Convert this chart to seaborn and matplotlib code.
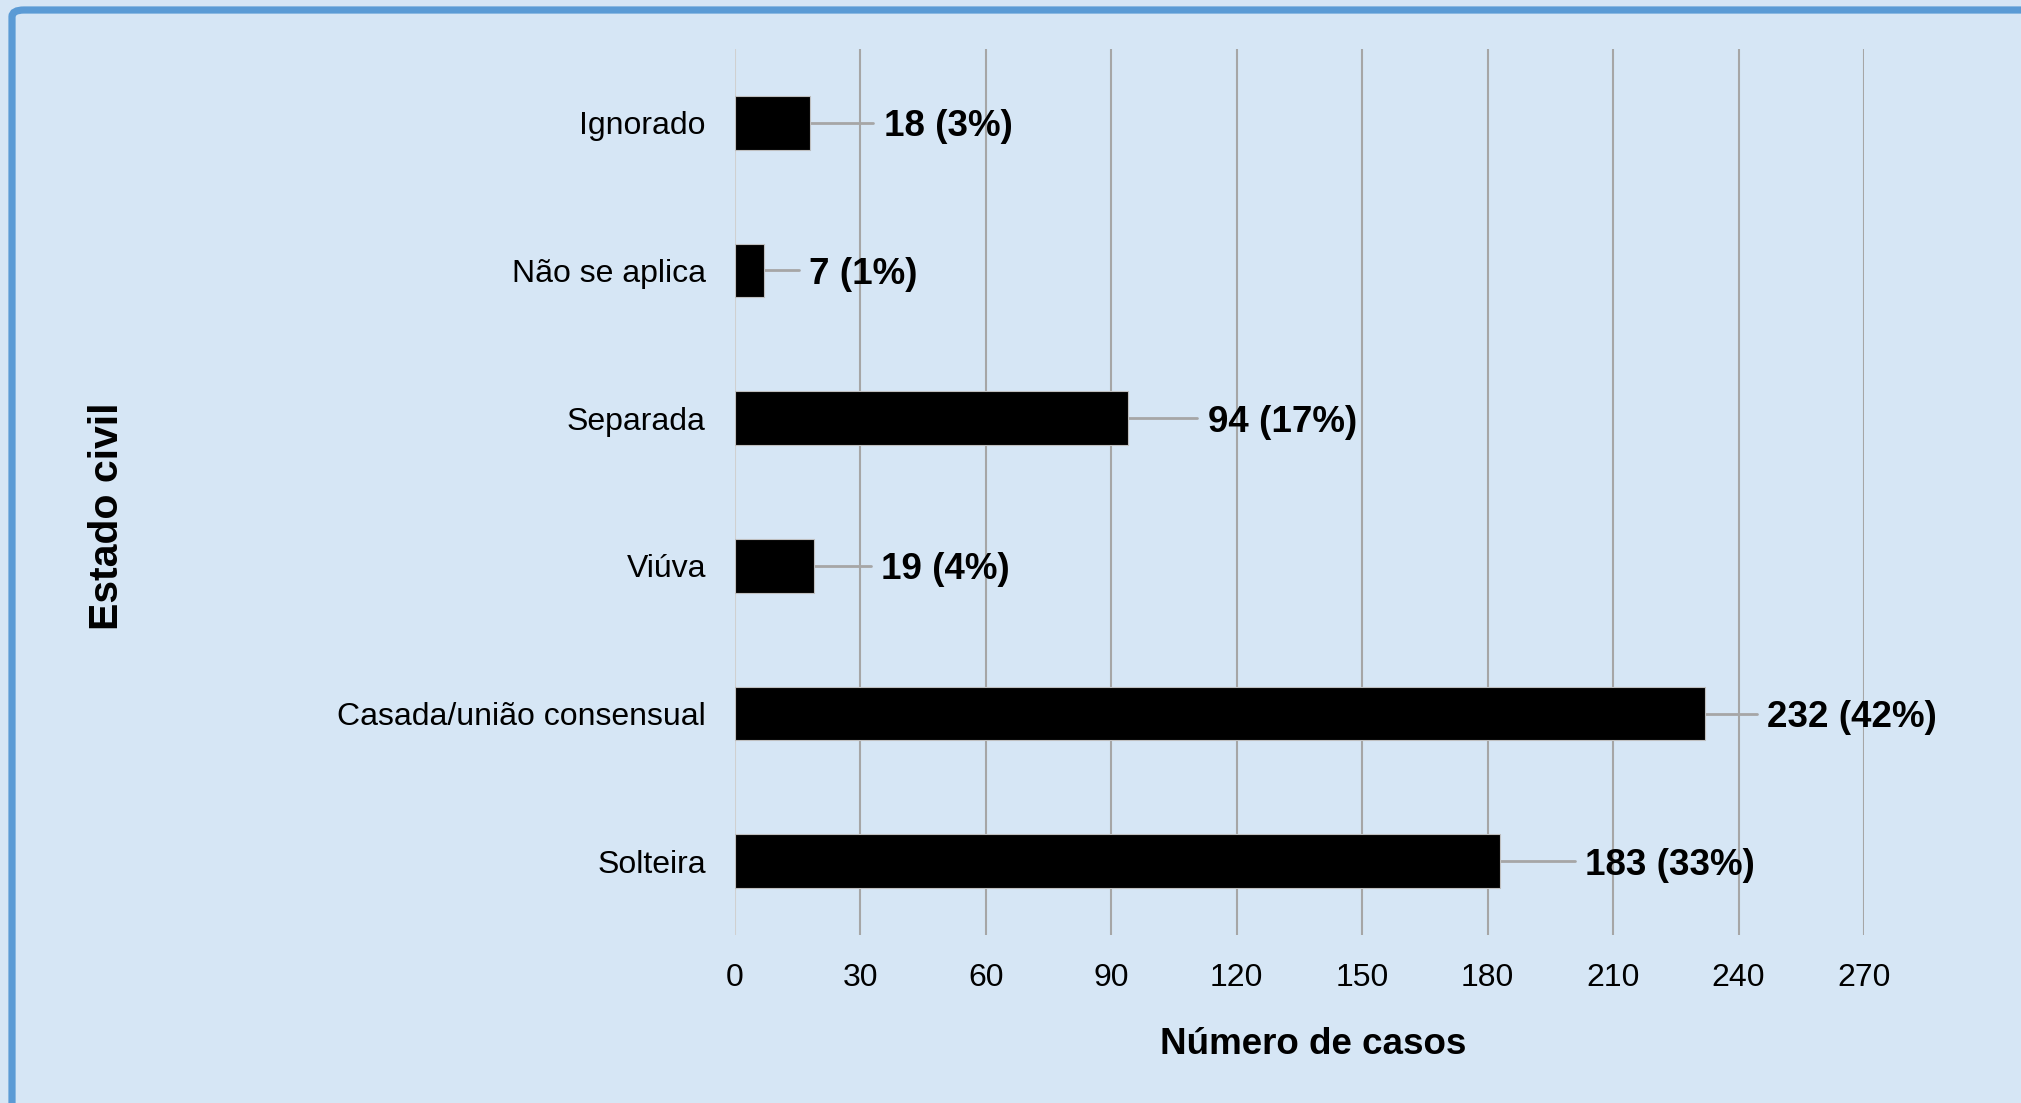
import matplotlib
matplotlib.use("Agg")
import matplotlib.pyplot as plt
import matplotlib.patches as mpatches
import seaborn as sns
import pandas as pd

# Dados
categorias = ["Ignorado", "Não se aplica", "Separada", "Viúva",
              "Casada/união consensual", "Solteira"]
casos = [18, 7, 94, 19, 232, 183]
percentuais = [3, 1, 17, 4, 42, 33]
xticks = [0, 30, 60, 90, 120, 150, 180, 210, 240, 270]

# afastamento dos rótulos (unidades do eixo x), como no original
label_gap = [17.6, 10.8, 19.1, 16.0, 14.8, 20.3]

BG = "#D6E6F5"
BORDER = "#5B9BD5"
GRID = "#A6A6A6"

sns.set_style("white")
plt.rcParams["font.family"] = ["Liberation Sans", "DejaVu Sans"]
plt.rcParams["text.color"] = "black"

df = pd.DataFrame({"categoria": categorias, "casos": casos})

fig = plt.figure(figsize=(20.21, 11.03), dpi=100, facecolor=BG)
ax = fig.add_axes([0.3637, 0.1523, 0.9223 - 0.3637, 0.9556 - 0.1523])
ax.set_facecolor(BG)

# moldura azul
frame = mpatches.FancyBboxPatch(
    (12 / 2021, -0.05), 1.2, 1.05 - 10 / 1103,
    boxstyle="round,pad=0,rounding_size=0.006",
    transform=fig.transFigure, fill=False, edgecolor=BORDER,
    linewidth=5.2, zorder=0)
fig.patches.append(frame)

sns.barplot(data=df, x="casos", y="categoria", order=categorias,
            orient="h", color="black", width=0.365, edgecolor="#BFBFBF",
            linewidth=0.8, saturation=1, ax=ax, zorder=3)

ax.set_xlim(0, 270)
ax.set_ylim(5.5, -0.5)
ax.set_xticks(xticks)
ax.set_xticklabels([str(t) for t in xticks])

for t in xticks[1:]:
    ax.axvline(t, color=GRID, linewidth=1.5, zorder=1)
ax.axvline(0, color="#D0D0D0", linewidth=1.5, zorder=1)

for i, (v, p, g) in enumerate(zip(casos, percentuais, label_gap)):
    ax.plot([v, v + g - 2.5], [i, i], color=GRID, linewidth=2.0,
            zorder=2, clip_on=False)
    ax.text(v + g, i, f"{v} ({p}%)", ha="left", va="center_baseline",
            fontsize=26.5, fontweight="bold", color="black", clip_on=False)

for s in ax.spines.values():
    s.set_visible(False)
ax.tick_params(axis="both", length=0, labelsize=23, colors="black")
ax.tick_params(axis="y", pad=21)
ax.tick_params(axis="x", pad=20)

ax.set_xlabel("")
ax.set_ylabel("")
fig.text(1313 / 2021, 1 - 1045 / 1103, "Número de casos", ha="center",
         va="center", fontsize=26.5, fontweight="bold", color="black")
fig.text(107 / 2021, 1 - 516 / 1103, "Estado civil", ha="center",
         va="center", rotation=90, fontsize=29.5, fontweight="bold",
         color="black")

fig.savefig("out.png", dpi=100, facecolor=BG)
